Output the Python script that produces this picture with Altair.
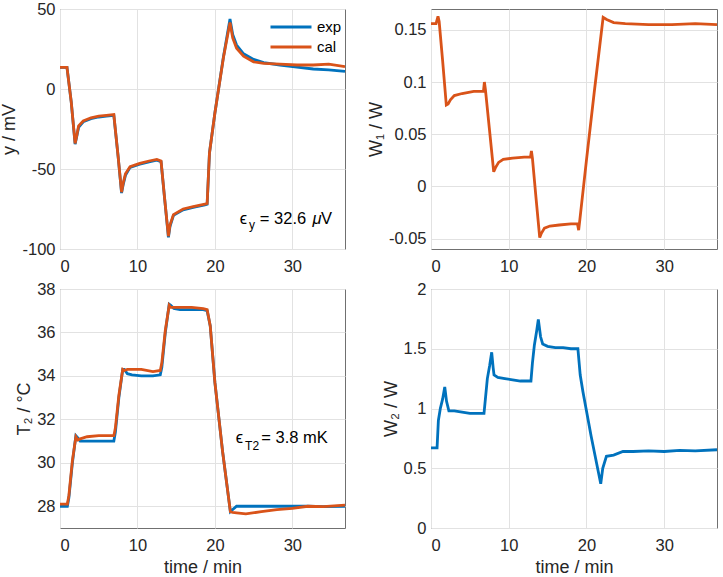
import altair as alt
import pandas as pd

FONT = "Liberation Sans"
BLUE = "#0072BD"
ORANGE = "#D95319"
INK = "#262626"

T_MAX = 36.8
X_TICKS = [0, 10, 20, 30]

# ---- y / mV : measured (exp) and calculated (cal) ----
t_y = [0, 0.9, 1.45, 1.95, 2.15, 2.4, 3.0, 4.0, 5.0, 6.0, 6.95, 7.5, 7.95, 8.15, 8.45,
       9.05, 10.3, 11.5, 12.5, 13.05, 13.5, 14.0, 14.2, 14.65, 15.9, 17.2, 18.7, 19.0,
       19.3, 20.0, 21.1, 21.95, 22.3, 22.8, 23.7, 25.0, 26.3, 28.4, 30.6, 32.7, 34.7, 36.8]
y_exp = [13.5, 13.5, -8, -34.5, -30, -24, -20.5, -18.5, -17.5, -17, -16.5, -42, -65, -60, -54,
         -49, -47, -45.5, -44.5, -45.5, -68, -92.7, -86, -79, -75.5, -74, -72.5, -72,
         -40, -15, 20, 43.7, 34, 27.5, 22, 18.5, 16.5, 15, 13.7, 12.5, 12, 11]
y_cal = [13.5, 13.5, -8, -34, -29.5, -23, -20, -18, -17, -16.5, -16, -42, -64.5, -59, -53,
         -48.5, -46.5, -45, -44, -45, -68, -92, -85, -78.5, -75, -73.5, -72, -71.5,
         -40, -15, 19.5, 41.5, 32, 25.5, 20.5, 17, 16, 15.5, 15, 15, 15.5, 14]

# ---- W1 / W ----
t_w1 = [0, 0.65, 0.9, 1.05, 1.5, 1.97, 2.2, 2.5, 3.0, 4.0, 5.5, 6.75, 6.87, 7.0, 7.5, 8.07,
        8.3, 8.7, 9.3, 10.5, 12.0, 12.8, 12.92, 13.05, 13.5, 13.99, 14.2, 14.6, 15.3, 16.5,
        18.0, 18.85, 19.0, 19.15, 20.0, 21.0, 22.15, 22.6, 23.5, 25.0, 28.0, 31.0, 34.0, 36.8]
w1_cal = [0.156, 0.156, 0.163, 0.158, 0.12, 0.078, 0.079, 0.083, 0.087, 0.089, 0.091, 0.091,
          0.1, 0.093, 0.056, 0.014, 0.018, 0.023, 0.026, 0.027, 0.028, 0.028, 0.034, 0.027,
          -0.01, -0.049, -0.045, -0.04, -0.038, -0.037, -0.036, -0.036, -0.042, -0.032,
          0.025, 0.09, 0.162, 0.16, 0.157, 0.156, 0.155, 0.155, 0.156, 0.155]

# ---- T2 / degC ----
t_T2 = [0, 0.95, 1.15, 1.6, 2.05, 2.3, 2.6, 3.5, 5.0, 6.95, 7.15, 7.6, 8.1, 8.3, 8.7, 9.3,
        10.5, 12.0, 12.95, 13.15, 13.6, 14.1, 14.3, 14.7, 15.5, 17.0, 18.5, 19.0, 19.4,
        20.0, 21.0, 22.0, 22.3, 22.8, 24.0, 26.0, 28.0, 30.0, 32.0, 34.0, 36.8]
T2_exp = [28.0, 28.0, 28.4, 30.0, 31.25, 31.15, 31.0, 31.0, 31.0, 31.0, 31.4, 33.0, 34.3,
          34.3, 34.1, 34.05, 34.0, 34.0, 34.05, 34.4, 36.0, 37.3, 37.25, 37.1, 37.05, 37.05,
          37.05, 37.0, 36.3, 33.7, 30.5, 27.75, 27.85, 28.0, 28.0, 28.0, 28.0, 28.0, 28.0,
          27.98, 28.0]
T2_cal = [28.1, 28.1, 28.5, 30.1, 31.2, 31.05, 31.1, 31.2, 31.25, 31.25, 31.6, 33.1, 34.3,
          34.25, 34.3, 34.3, 34.3, 34.2, 34.25, 34.6, 36.1, 37.25, 37.15, 37.15, 37.15,
          37.15, 37.1, 37.05, 36.3, 33.7, 30.5, 27.75, 27.72, 27.7, 27.65, 27.75, 27.85,
          27.9, 28.0, 27.98, 28.05]

# ---- W2 / W ----
t_w2 = [0, 0.78, 0.95, 1.2, 1.5, 1.77, 2.0, 2.3, 3.0, 4.0, 5.0, 6.0, 6.82, 7.0, 7.25, 7.55,
        7.81, 8.0, 8.11, 8.6, 9.5, 10.5, 11.5, 12.86, 13.05, 13.3, 13.6, 13.81, 14.1, 14.37,
        15.0, 16.0, 17.0, 18.0, 18.9, 19.2, 19.55, 20.6, 21.84, 22.1, 22.57, 23.5, 24.7,
        26.0, 28.0, 30.0, 32.0, 34.0, 36.8]
w2_exp = [0.67, 0.67, 0.9, 1.0, 1.08, 1.18, 1.06, 0.98, 0.98, 0.97, 0.96, 0.96, 0.96, 1.08,
          1.25, 1.36, 1.47, 1.34, 1.28, 1.26, 1.25, 1.24, 1.23, 1.23, 1.38, 1.53, 1.65,
          1.745, 1.6, 1.54, 1.52, 1.51, 1.51, 1.5, 1.5, 1.28, 1.14, 0.77, 0.37, 0.5, 0.6,
          0.61, 0.64, 0.64, 0.645, 0.64, 0.65, 0.645, 0.655]

SERIES = ["exp", "cal"]
COLORS = [BLUE, ORANGE]

# error annotations: text, t, value, font size, style
ann_y = [("ϵ", 23.2, -84.4, 16.5, "normal"), ("y", 24.4, -87.5, 12, "normal"),
         ("= 32.6", 25.8, -84.4, 16.5, "normal"), ("μ", 32.6, -84.4, 16.5, "italic"),
         ("V", 33.7, -84.4, 16.5, "normal")]
ann_T2 = [("ϵ", 22.7, 30.9, 16.5, "normal"), ("T2", 23.9, 30.6, 12, "normal"),
          ("= 3.8 mK", 26.0, 30.9, 16.5, "normal")]

PW_L, PW_R, PH = 285, 286, 240
LW = 2.8


def frame(t, v, name):
    return pd.DataFrame({"t": t, "v": v, "series": name})


def x_enc(title):
    return alt.X("t:Q", scale=alt.Scale(domain=[0, T_MAX], nice=False, zero=False),
                 axis=alt.Axis(values=X_TICKS, title=title, labelPadding=9, titlePadding=5))


def y_enc(domain, ticks, title):
    return alt.Y("v:Q", scale=alt.Scale(domain=domain, nice=False, zero=False),
                 axis=alt.Axis(values=ticks, title=title, labelExpr="'' + datum.value",
                               labelPadding=5, titlePadding=3))


def series_layer(df, xtitle, domain, ticks, ytitle, legend=None):
    color = alt.Color("series:N", scale=alt.Scale(domain=SERIES, range=COLORS),
                      legend=legend)
    return alt.Chart(df).mark_line(strokeWidth=LW, clip=True).encode(
        x=x_enc(xtitle), y=y_enc(domain, ticks, ytitle), color=color)


def annotation(items):
    layers = []
    for text, t, v, size, style in items:
        d = pd.DataFrame({"t": [t], "v": [v], "label": [text]})
        layers.append(alt.Chart(d).mark_text(align="left", baseline="alphabetic",
                                             font=FONT, fontSize=size, fontStyle=style,
                                             color="black")
                      .encode(x="t:Q", y="v:Q", text="label:N"))
    return layers


legend = alt.Legend(orient="none", legendX=209, legendY=8, title=None,
                    symbolType="stroke", symbolSize=1681, symbolStrokeWidth=LW,
                    labelFont=FONT, labelFontSize=15, labelColor="black",
                    clipHeight=20, rowPadding=0, padding=0, labelOffset=4)

y_dom, y_ticks = [-100, 50], [-100, -50, 0, 50]
tl = alt.layer(
    series_layer(frame(t_y, y_exp, "exp"), None, y_dom, y_ticks, "y / mV", legend),
    series_layer(frame(t_y, y_cal, "cal"), None, y_dom, y_ticks, "y / mV", legend),
    *annotation(ann_y),
).properties(width=PW_L, height=PH)

tr = alt.Chart(frame(t_w1, w1_cal, "cal")).mark_line(
    strokeWidth=LW, clip=True, color=ORANGE).encode(
    x=x_enc(None),
    y=y_enc([-0.06, 0.17], [-0.05, 0, 0.05, 0.1, 0.15], "W₁ / W"),
).properties(width=PW_R, height=PH)

T_dom, T_ticks = [27, 38], [28, 30, 32, 34, 36, 38]
bl = alt.layer(
    series_layer(frame(t_T2, T2_exp, "exp"), "time / min", T_dom, T_ticks, "T₂ / °C"),
    series_layer(frame(t_T2, T2_cal, "cal"), "time / min", T_dom, T_ticks, "T₂ / °C"),
    *annotation(ann_T2),
).properties(width=PW_L, height=PH - 1)

br = alt.Chart(frame(t_w2, w2_exp, "exp")).mark_line(
    strokeWidth=LW, clip=True, color=BLUE).encode(
    x=x_enc("time / min"),
    y=y_enc([0, 2], [0, 0.5, 1, 1.5, 2], "W₂ / W"),
).properties(width=PW_R, height=PH - 1)

chart = alt.concat(tl, tr, bl, br, columns=2, spacing={"row": 40, "column": 86},
                   bounds="flush").properties(
    padding={"left": 0, "top": 0, "right": 2, "bottom": 0},
    background="white",
).configure_axis(
    grid=True, gridColor="#e2e2e2", gridWidth=1, domain=False, ticks=False, tickSize=0,
    labelFont=FONT, labelFontSize=16.5, labelColor=INK,
    titleFont=FONT, titleFontSize=18, titleFontWeight="normal", titleColor=INK,
).configure_view(stroke="#707070", strokeWidth=1)

chart.save("out.html", embed_options={"renderer": "svg", "actions": False})
